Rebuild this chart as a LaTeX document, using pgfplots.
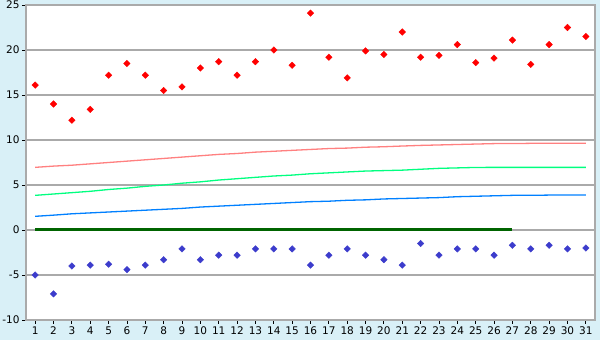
\documentclass[border=0pt]{standalone}
\usepackage{pgfplots}
\pgfplotsset{compat=1.18}
\usepackage{fontspec}
\setmainfont{DejaVu Sans}
\definecolor{bgblue}{HTML}{D9F0F7}
\definecolor{gridgray}{HTML}{AAAAAA}
\definecolor{maxred}{HTML}{FF0000}
\definecolor{minblue}{HTML}{3C3CCC}
\definecolor{linered}{HTML}{FF8080}
\definecolor{linegreen}{HTML}{00FF80}
\definecolor{lineblue}{HTML}{0080FF}
\definecolor{zerogreen}{HTML}{006400}
\begin{document}
\begin{tikzpicture}[x=1pt,y=1pt]
\useasboundingbox (0,0) rectangle (600,340);
\fill[bgblue] (0,0) rectangle (600,340);
\begin{axis}[
  at={(26pt,20pt)}, anchor=south west,
  scale only axis, width=569pt, height=315pt,
  xmin=0.5, xmax=31.5, ymin=-10, ymax=25,
  axis background/.style={fill=white},
  axis line style={gridgray, line width=1.2pt},
  xtick={1,...,31}, ytick={-10,-5,0,5,10,15,20,25},
  yticklabels={-10,-5,0,5,10,15,20,25},
  xtick pos=lower, ytick pos=left,
  tick align=outside, major tick length=4pt,
  tick style={black, line width=0.9pt},
  ymajorgrids, grid style={gridgray, line width=1.1pt},
  tick label style={font=\fontsize{10.5}{12}\selectfont},
  xticklabel style={yshift=1pt},
  yticklabel style={xshift=1pt},
  /pgf/number format/assume math mode=true,
  clip=false,
]
\addplot[linered, line width=1.3pt] coordinates {
(1,6.96)(2,7.1)(3,7.2)(4,7.35)(5,7.5)(6,7.65)(7,7.8)(8,7.95)(9,8.1)(10,8.25)
(11,8.4)(12,8.5)(13,8.65)(14,8.75)(15,8.85)(16,8.95)(17,9.05)(18,9.1)(19,9.2)(20,9.25)
(21,9.33)(22,9.4)(23,9.45)(24,9.5)(25,9.55)(26,9.6)(27,9.6)(28,9.63)(29,9.63)(30,9.63)(31,9.63)};
\addplot[linegreen, line width=1.3pt] coordinates {
(1,3.85)(2,4.0)(3,4.15)(4,4.3)(5,4.5)(6,4.65)(7,4.85)(8,5.0)(9,5.2)(10,5.35)
(11,5.55)(12,5.7)(13,5.85)(14,6.0)(15,6.1)(16,6.25)(17,6.35)(18,6.45)(19,6.55)(20,6.6)
(21,6.65)(22,6.75)(23,6.85)(24,6.9)(25,6.95)(26,6.96)(27,6.96)(28,6.96)(29,6.96)(30,6.96)(31,6.96)};
\addplot[lineblue, line width=1.3pt] coordinates {
(1,1.52)(2,1.65)(3,1.8)(4,1.9)(5,2.0)(6,2.1)(7,2.2)(8,2.3)(9,2.4)(10,2.55)
(11,2.65)(12,2.75)(13,2.85)(14,2.95)(15,3.05)(16,3.15)(17,3.2)(18,3.3)(19,3.35)(20,3.45)
(21,3.5)(22,3.55)(23,3.6)(24,3.7)(25,3.75)(26,3.8)(27,3.85)(28,3.85)(29,3.88)(30,3.88)(31,3.89)};
\addplot[zerogreen, line width=3pt] coordinates {(1,0)(27,0)};
\addplot[only marks, mark=square*, mark size=2.3pt, mark options={rotate=45, fill=maxred, draw=maxred}] coordinates {
(1,16.1)(2,14.0)(3,12.2)(4,13.4)(5,17.2)(6,18.5)(7,17.2)(8,15.5)(9,15.9)(10,18.0)
(11,18.7)(12,17.2)(13,18.7)(14,20.0)(15,18.3)(16,24.1)(17,19.2)(18,16.9)(19,19.9)(20,19.5)
(21,22.0)(22,19.2)(23,19.4)(24,20.6)(25,18.6)(26,19.1)(27,21.1)(28,18.4)(29,20.6)(30,22.5)(31,21.5)};
\addplot[only marks, mark=square*, mark size=2.3pt, mark options={rotate=45, fill=minblue, draw=minblue}] coordinates {
(1,-5.0)(2,-7.1)(3,-4.0)(4,-3.9)(5,-3.8)(6,-4.4)(7,-3.9)(8,-3.3)(9,-2.1)(10,-3.3)
(11,-2.8)(12,-2.8)(13,-2.1)(14,-2.1)(15,-2.1)(16,-3.9)(17,-2.8)(18,-2.1)(19,-2.8)(20,-3.3)
(21,-3.9)(22,-1.5)(23,-2.8)(24,-2.1)(25,-2.1)(26,-2.8)(27,-1.7)(28,-2.1)(29,-1.7)(30,-2.1)(31,-2.0)};
\end{axis}
\end{tikzpicture}
\end{document}
